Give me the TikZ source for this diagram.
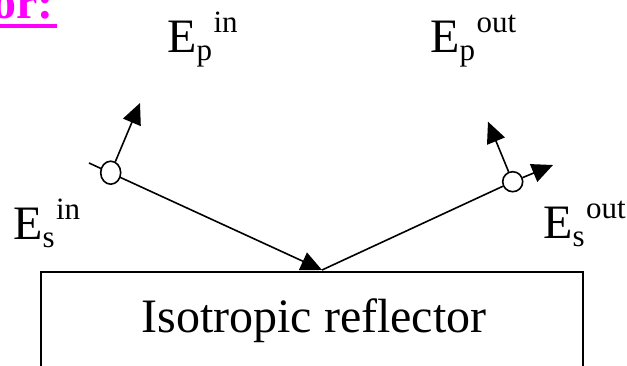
\documentclass[tikz,border=0pt]{standalone}
\usepackage{fontspec}
\setmainfont{Liberation Serif}
\usetikzlibrary{arrows.meta,shapes.geometric}
\definecolor{mag}{RGB}{255,0,255}
\newcommand{\fieldlab}[3]{\fontsize{48}{48}\selectfont #1\raisebox{-8pt}{\fontsize{31}{31}\selectfont #2}\kern1.5pt\raisebox{20pt}{\fontsize{31}{31}\selectfont #3}}
\begin{document}
\begin{tikzpicture}[x=1pt,y=-1pt,
  wire/.style={line width=1.6pt},
  arr/.style={wire,-{Triangle[length=21pt,width=19pt]}},
  pol/.style={ellipse,draw,line width=1.6pt,fill=white,inner sep=0pt},
  lab/.style={anchor=base west,inner sep=0pt}]
\useasboundingbox (0,0) rectangle (627,365);
\clip (0,0) rectangle (627,365);
% title fragment
\node[anchor=base east,inner sep=0pt,text=mag,font=\fontsize{48}{48}\selectfont\bfseries] (title) at (54,18) {or:};
\draw[mag,line width=4pt] ([yshift=-7.5pt]title.base west) -- ([xshift=3pt,yshift=-7.5pt]title.base east);
% reflector box
\draw[wire] (40.7,370) -- (40.7,272) -- (583,272) -- (583,370);
\node[anchor=base,inner sep=0pt,font=\fontsize{48}{48}\selectfont] (refl) at (314,332) {Isotropic reflector};
% rays
\coordinate (tail) at (89,163);
\coordinate (hit) at (322,270);
\draw[arr] (tail) -- (hit);
\node[pol,minimum width=20pt,minimum height=23pt] (cin) at (110.7,172.7) {};
\node[pol,minimum width=20pt,minimum height=20pt] (cout) at (512.7,181.7) {};
\draw[wire] (hit) -- (cout);
\coordinate (pin) at (140,103);
\coordinate (pout) at (488,121.7);
\coordinate (sout) at (553,165);
\draw[arr] (cin) -- (pin);
\draw[arr] (cout) -- (pout);
\draw[arr] (cout) -- (sout);
% labels
\node[lab] (Epin) at (167,52) {\fieldlab{E}{p}{in}};
\node[lab] (Epout) at (430,52) {\fieldlab{E}{p}{out}};
\node[lab] (Esin) at (13,239) {\fieldlab{E}{s}{in}};
\node[lab] (Esout) at (543,238) {\fieldlab{E}{s}{out}};
\end{tikzpicture}
\end{document}
